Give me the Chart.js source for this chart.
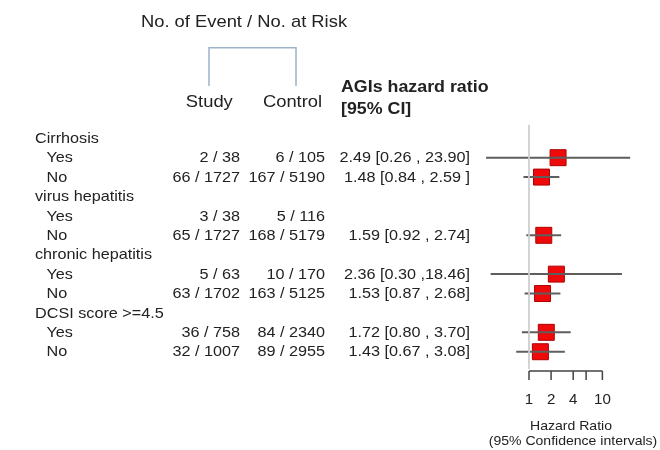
<!DOCTYPE html>
<html>
<head>
<meta charset="utf-8">
<script src="https://cdn.jsdelivr.net/npm/chart.js@4"></script>
<style>
  html, body { margin: 0; padding: 0; background: #ffffff; }
  #c { display: block; }
</style>
</head>
<body>
<canvas id="c" width="660" height="450"></canvas>
<script>
// ---- data ----
const rowLabels = ['Cirrhosis', 'Yes', 'No', 'virus hepatitis', 'Yes', 'No',
                   'chronic hepatitis', 'Yes', 'No', 'DCSI score >=4.5', 'Yes', 'No'];
const rowIsHeader = [true, false, false, true, false, false, true, false, false, true, false, false];
const studyCounts = ['', '2 / 38', '66 / 1727', '', '3 / 38', '65 / 1727', '', '5 / 63', '63 / 1702', '', '36 / 758', '32 / 1007'];
const controlCounts = ['', '6 / 105', '167 / 5190', '', '5 / 116', '168 / 5179', '', '10 / 170', '163 / 5125', '', '84 / 2340', '89 / 2955'];
const hazardRatio = [null, 2.49, 1.48, null, null, 1.59, null, 2.36, 1.53, null, 1.72, 1.43];
const ciLower = [null, 0.26, 0.84, null, null, 0.92, null, 0.30, 0.87, null, 0.80, 0.67];
const ciUpper = [null, 23.90, 2.59, null, null, 2.74, null, 18.46, 2.68, null, 3.70, 3.08];
const hrText = ['', '2.49 [0.26 , 23.90]', '1.48 [0.84 , 2.59 ]', '', '', '1.59 [0.92 , 2.74]', '',
                '2.36 [0.30 ,18.46]', '1.53 [0.87 , 2.68]', '', '1.72 [0.80 , 3.70]', '1.43 [0.67 , 3.08]'];
const axisTicks = [1, 2, 4, 6, 10];
const axisTickLabels = ['1', '2', '4', '', '10'];

// ---- styling ----
const FONT = '"Liberation Sans", Arial, sans-serif';
const TEXT_COLOR = '#222222';
const TEXT_SX = 1.08;

function txt(ctx, s, x, y, align, font) {
  ctx.save();
  ctx.font = font;
  ctx.fillStyle = TEXT_COLOR;
  ctx.textAlign = align;
  ctx.textBaseline = 'middle';
  ctx.translate(x, y);
  ctx.scale(TEXT_SX, 1);
  ctx.fillText(s, 0, 0);
  ctx.restore();
}

const datasets = [];
// reference line at HR = 1
datasets.push({
  data: [{ x: 1, y: -0.7 }, { x: 1, y: 11.9 }],
  showLine: true, borderColor: '#cdcdcd', borderWidth: 1, pointRadius: 0
});
// confidence intervals
rowLabels.forEach((_, i) => {
  if (hazardRatio[i] === null) return;
  datasets.push({
    data: [{ x: ciLower[i], y: i }, { x: ciUpper[i], y: i }],
    showLine: true, borderColor: '#5e5e5e', borderWidth: 2, pointRadius: 0
  });
});
// point estimates
datasets.push({
  data: rowLabels.map((_, i) => hazardRatio[i] === null ? null : { x: hazardRatio[i], y: i }).filter(p => p),
  pointStyle: 'rect', pointRadius: 11.3,
  backgroundColor: '#ee0a0a', borderColor: '#b00000', borderWidth: 1, showLine: false
});

const textPlugin = {
  id: 'forestText',
  afterDraw(chart) {
    const ctx = chart.ctx;
    const xs = chart.scales.x, ys = chart.scales.y;
    // header
    txt(ctx, 'No. of Event / No. at Risk', 244, 22.5, 'center', '17px ' + FONT);
    ctx.save();
    ctx.strokeStyle = '#9db3cc';
    ctx.lineWidth = 1.5;
    ctx.beginPath();
    ctx.moveTo(209, 86); ctx.lineTo(209, 47.7); ctx.lineTo(296, 47.7); ctx.lineTo(296, 86);
    ctx.stroke();
    ctx.restore();
    txt(ctx, 'Study', 209.3, 102, 'center', '17px ' + FONT);
    txt(ctx, 'Control', 292.5, 102, 'center', '17px ' + FONT);
    txt(ctx, 'AGIs hazard ratio', 341, 87.5, 'left', 'bold 16.5px ' + FONT);
    txt(ctx, '[95% CI]', 341, 109, 'left', 'bold 16.5px ' + FONT);

    // rows
    rowLabels.forEach((lab, i) => {
      const y = ys.getPixelForValue(i) + 0.5;
      txt(ctx, lab, rowIsHeader[i] ? 35 : 46.5, y, 'left', '15px ' + FONT);
      if (studyCounts[i]) txt(ctx, studyCounts[i], 240, y, 'right', '15px ' + FONT);
      if (controlCounts[i]) txt(ctx, controlCounts[i], 325, y, 'right', '15px ' + FONT);
      if (hrText[i]) txt(ctx, hrText[i], 470, y, 'right', '15px ' + FONT);
    });

    // bottom axis (1 .. 10)
    const axY = 371;
    ctx.save();
    ctx.strokeStyle = '#444444';
    ctx.lineWidth = 1.5;
    ctx.beginPath();
    ctx.moveTo(xs.getPixelForValue(axisTicks[0]), axY);
    ctx.lineTo(xs.getPixelForValue(axisTicks[axisTicks.length - 1]), axY);
    axisTicks.forEach(v => {
      const px = xs.getPixelForValue(v);
      ctx.moveTo(px, axY);
      ctx.lineTo(px, axY + 9);
    });
    ctx.stroke();
    ctx.restore();
    axisTicks.forEach((v, i) => {
      if (axisTickLabels[i]) txt(ctx, axisTickLabels[i], xs.getPixelForValue(v), 400, 'center', '14px ' + FONT);
    });
    txt(ctx, 'Hazard Ratio', 571, 426, 'center', '13px ' + FONT);
    txt(ctx, '(95% Confidence intervals)', 573, 441, 'center', '13px ' + FONT);
  }
};

new Chart(document.getElementById('c'), {
  type: 'scatter',
  data: { datasets },
  options: {
    responsive: false,
    animation: false,
    devicePixelRatio: 1,
    layout: { padding: { left: 477.7, right: 22.6, top: 124.7, bottom: 80.8 } },
    plugins: { legend: { display: false }, tooltip: { enabled: false } },
    scales: {
      x: { type: 'logarithmic', min: 0.2, max: 30, bounds: 'data', display: false },
      y: { type: 'linear', min: -0.7, max: 11.9, bounds: 'data', reverse: true, display: false }
    }
  },
  plugins: [textPlugin]
});
</script>
</body>
</html>
